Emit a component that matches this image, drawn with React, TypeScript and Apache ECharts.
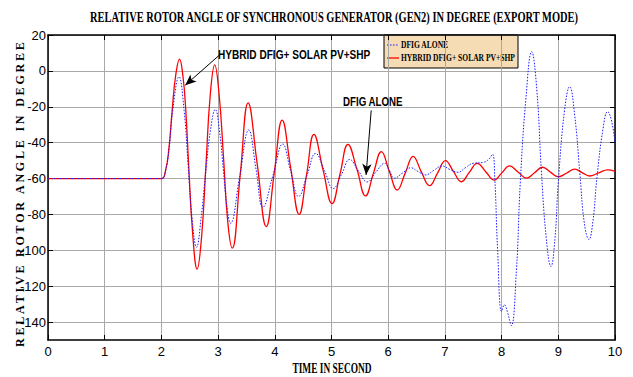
import React, { useEffect, useRef } from "react";
import * as echarts from "echarts";

// ---- data (time in s, angle in degree) ----
const titleText = "RELATIVE ROTOR ANGLE OF SYNCHRONOUS GENERATOR (GEN2) IN DEGREE (EXPORT MODE)";
const xAxisName = "TIME IN SECOND";
const yAxisName = "RELATIVE ROTOR ANGLE IN DEGREE";
const seriesNames = ["DFIG ALONE", "HYBRID DFIG+ SOLAR PV+SHP"];

const dfigAlone: [number, number][] = [
  [0, -60], [2.0, -60], [2.07, -56], [2.13, -45], [2.2, -22], [2.31, -3.3], [2.4, -22],
  [2.47, -52], [2.54, -82], [2.62, -98.3], [2.7, -82], [2.78, -57], [2.87, -32], [2.95, -21.5],
  [3.03, -35], [3.09, -54], [3.15, -74], [3.22, -84.9], [3.38, -59], [3.54, -33], [3.67, -55],
  [3.79, -76], [3.97, -58], [4.14, -40.8], [4.28, -56], [4.42, -70], [4.57, -58], [4.72, -46],
  [4.88, -56], [5.03, -65.6], [5.18, -57.5], [5.32, -49.4], [5.48, -56], [5.63, -61.9],
  [5.78, -56.5], [5.94, -51.5], [6.02, -55.5], [6.11, -59.8], [6.25, -57], [6.4, -54],
  [6.52, -56], [6.66, -58], [6.8, -55.5], [6.95, -53], [7.09, -55], [7.23, -56.5], [7.36, -54],
  [7.5, -51.5], [7.68, -51], [7.78, -49], [7.84, -46.5], [7.88, -60], [7.93, -100], [8.0, -134],
  [8.05, -130.4], [8.1, -134], [8.17, -142], [8.26, -112], [8.33, -62], [8.43, -15], [8.53, 10.7],
  [8.62, -10], [8.7, -55], [8.79, -94], [8.87, -109], [8.94, -94], [9.0, -62], [9.11, -22],
  [9.2, -8.8], [9.29, -25], [9.38, -57], [9.46, -85], [9.54, -94], [9.61, -84], [9.68, -60],
  [9.79, -32], [9.87, -22.7], [9.94, -28], [10, -40]
];

const hybrid: [number, number][] = [
  [0, -60], [2.0, -60], [2.07, -56], [2.13, -44], [2.19, -22], [2.25, -3], [2.32, 6.5], [2.38, -3],
  [2.43, -22], [2.48, -52], [2.55, -90], [2.63, -110.5], [2.71, -92], [2.785, -53], [2.86, -14],
  [2.94, 3.3], [3.02, -14], [3.095, -48], [3.17, -84], [3.25, -98.8], [3.39, -58], [3.53, -17.8],
  [3.69, -52], [3.85, -86.8], [3.99, -57], [4.13, -27.4], [4.28, -54], [4.43, -80], [4.56, -58],
  [4.69, -35.4], [4.85, -55], [5.01, -74], [5.15, -57.5], [5.29, -41], [5.45, -55], [5.6, -69.7],
  [5.74, -57], [5.88, -45], [6.02, -56], [6.16, -66.4], [6.3, -57], [6.44, -47.6], [6.58, -56],
  [6.73, -64], [6.87, -57], [7.01, -50], [7.15, -56], [7.29, -61.8], [7.43, -56.6], [7.57, -51.5],
  [7.72, -56.2], [7.87, -60.9], [8.0, -57], [8.14, -53], [8.29, -56.4], [8.44, -59.8], [8.58, -56.8],
  [8.72, -53.7], [8.86, -56.4], [9.0, -59], [9.15, -56.9], [9.29, -54.8], [9.42, -56.7],
  [9.55, -58.6], [9.71, -56.9], [9.87, -55.2], [10, -56]
];

// annotation arrows in data units: [tail, head]
const hybridArrow: [number, number][] = [[3.03, 9], [2.42, -8]];
const dfigArrow: [number, number][] = [[5.7, -22], [5.61, -58]];

const xMin = 0, xMax = 10, xStep = 1;
const yMin = -150, yMax = 20;
const yTicks = [-140, -120, -100, -80, -60, -40, -20, 0, 20];

export default function App() {
  const ref = useRef<HTMLDivElement>(null);
  useEffect(() => {
    document.body.style.margin = "0";
    const chart = echarts.init(ref.current!, undefined, { renderer: "svg" });
    const serif = '"Liberation Serif", "Times New Roman", serif';
    const sans = '"Liberation Sans Narrow", "Liberation Sans", Arial, sans-serif';
    const tickFont = { fontFamily: sans, fontSize: 13, color: "#000" };
    const arrowLine = (pts: [number, number][]) => ({
      silent: true,
      symbol: ["none", "arrow"],
      symbolSize: [7, 11],
      label: { show: false },
      lineStyle: { color: "#000", width: 1, type: "solid" },
      emphasis: { disabled: true },
      data: [[{ coord: pts[0] }, { coord: pts[1] }]]
    });
    const yCommon = {
      type: "value", min: yMin, max: yMax,
      axisLine: { show: true, onZero: false, lineStyle: { color: "#000", width: 1.5 } },
      axisTick: { show: true, inside: true, length: 5, customValues: yTicks, lineStyle: { color: "#000" } }
    };
    chart.setOption({
      animation: false,
      backgroundColor: "#fff",
      grid: { left: 48, right: 18, top: 35, bottom: 37, containLabel: false },
      xAxis: [
        {
          type: "value", min: xMin, max: xMax, interval: xStep, position: "bottom",
          axisLine: { onZero: false, lineStyle: { color: "#000", width: 1.5 } },
          axisTick: { inside: true, length: 5, lineStyle: { color: "#000" } },
          axisLabel: { ...tickFont, margin: 5 },
          splitLine: { show: true, lineStyle: { color: "#a9a9a9", width: 1 } }
        },
        {
          type: "value", min: xMin, max: xMax, interval: xStep, position: "top",
          axisLine: { onZero: false, lineStyle: { color: "#000", width: 1.5 } },
          axisTick: { inside: true, length: 5, lineStyle: { color: "#000" } },
          axisLabel: { show: false }, splitLine: { show: false }
        }
      ],
      yAxis: [
        {
          ...yCommon, position: "left",
          axisLabel: { ...tickFont, margin: 2, customValues: yTicks },
          splitLine: { show: true, lineStyle: { color: "#a9a9a9", width: 1 } }
        },
        {
          ...yCommon, position: "right",
          axisLabel: { show: false }, splitLine: { show: false }
        }
      ],
      series: [
        {
          name: seriesNames[0], type: "line", data: dfigAlone, showSymbol: false, symbol: "none",
          smooth: 0.45,
          lineStyle: { color: "#1a1aff", width: 1, type: [1.5, 1.5] },
          markLine: arrowLine(dfigArrow), z: 3
        },
        {
          name: seriesNames[1], type: "line", data: hybrid, showSymbol: false, symbol: "none",
          smooth: 0.45,
          lineStyle: { color: "#ff0000", width: 1.3 },
          markLine: arrowLine(hybridArrow), z: 2
        }
      ],
      graphic: [
        {
          type: "text", x: 334, y: 17, scaleX: 0.745, z: 10,
          style: { text: titleText, font: `bold 14px ${serif}`, fill: "#000", textAlign: "center", textVerticalAlign: "middle" }
        },
        {
          type: "text", x: 332, y: 368, scaleX: 0.67, z: 10,
          style: { text: xAxisName, font: `bold 14px ${serif}`, fill: "#000", textAlign: "center", textVerticalAlign: "middle" }
        },
        {
          type: "text", x: 20, y: 347, rotation: Math.PI / 2, z: 10,
          style: { text: yAxisName, font: `bold 12px "Liberation Serif", YLbl`, fill: "#000", textAlign: "left", textVerticalAlign: "middle" }
        },
        {
          type: "text", x: 218, y: 55, scaleX: 0.84, z: 10,
          style: { text: seriesNames[1], font: 'bold 12px "Liberation Sans", Arial', fill: "#000", textAlign: "left", textVerticalAlign: "middle" }
        },
        {
          type: "text", x: 343, y: 102, scaleX: 0.81, z: 10,
          style: { text: seriesNames[0], font: 'bold 12px "Liberation Sans", Arial', fill: "#000", textAlign: "left", textVerticalAlign: "middle" }
        },
        {
          type: "group", z: 20,
          children: [
            { type: "rect", shape: { x: 384, y: 35, width: 134, height: 33 }, style: { fill: "#f5dcb4", stroke: "#000", lineWidth: 1 } },
            { type: "line", shape: { x1: 387, y1: 45, x2: 399, y2: 45 }, style: { stroke: "#1a1aff", lineWidth: 1, lineDash: [1.5, 1.5] } },
            { type: "line", shape: { x1: 387, y1: 58, x2: 399, y2: 58 }, style: { stroke: "#ff0000", lineWidth: 1.3 } },
            { type: "text", x: 401, y: 45, scaleX: 0.72, style: { text: seriesNames[0], font: `bold 10.5px ${serif}`, fill: "#000", textAlign: "left", textVerticalAlign: "middle" } },
            { type: "text", x: 401, y: 58, scaleX: 0.72, style: { text: seriesNames[1], font: `bold 10.5px ${serif}`, fill: "#000", textAlign: "left", textVerticalAlign: "middle" } }
          ]
        }
      ]
    });
    return () => chart.dispose();
  }, []);
  return (
    <>
      <style>{`text[style*="YLbl"]{letter-spacing:2.8px}`}</style>
      <div ref={ref} style={{ width: 633, height: 377 }} />
    </>
  );
}
